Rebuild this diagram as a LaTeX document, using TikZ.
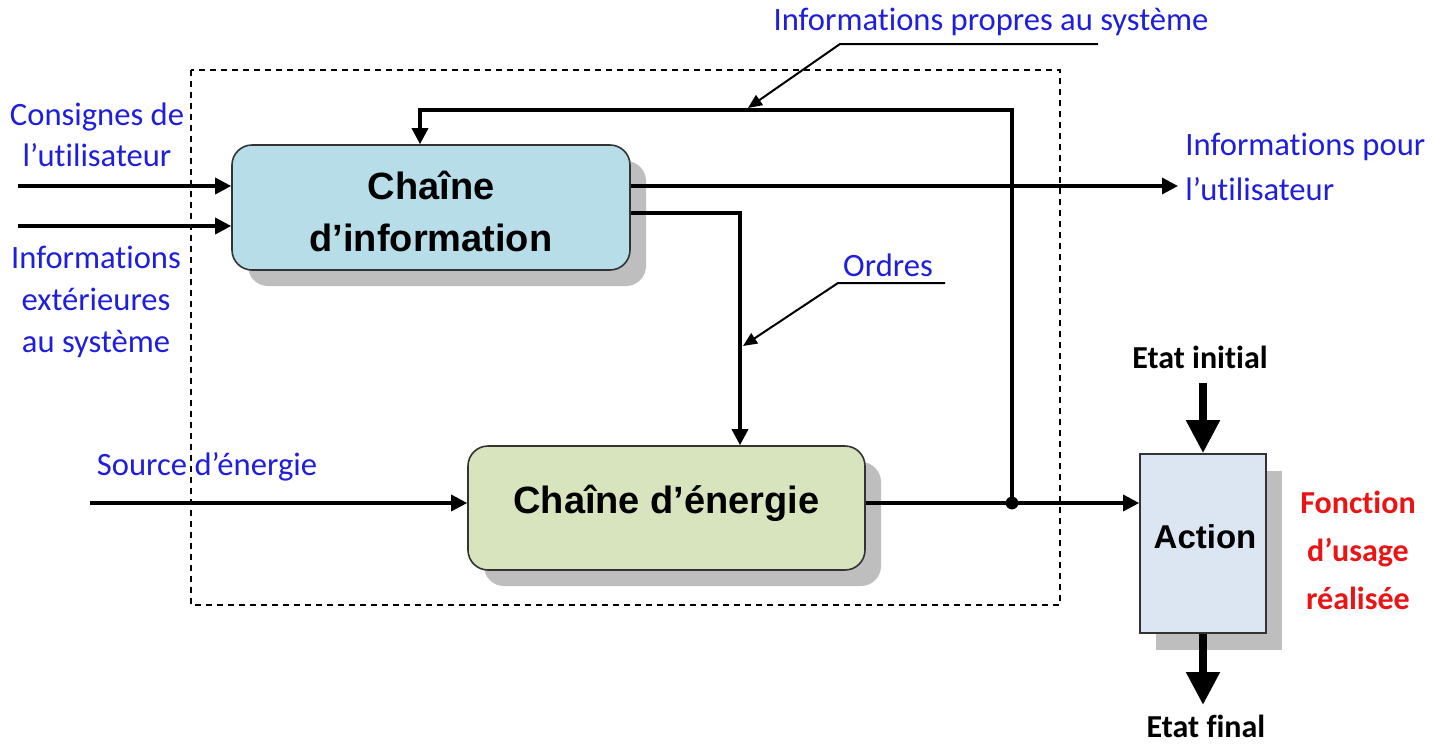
\documentclass[tikz,border=0pt]{standalone}
\usepackage{fontspec}
\setmainfont[Ligatures=NoCommon]{Carlito}
\newfontfamily\arialfont{Liberation Sans}
\usetikzlibrary{arrows.meta,shadows}
\definecolor{lblblue}{RGB}{30,30,220}
\definecolor{lblred}{RGB}{235,20,20}
\definecolor{infofill}{RGB}{183,221,232}
\definecolor{enerfill}{RGB}{215,228,189}
\definecolor{actfill}{RGB}{220,230,242}
\definecolor{shadowgray}{RGB}{190,190,190}
\begin{document}
\begin{tikzpicture}[x=0.5pt,y=-0.5pt,
  conn/.style={line width=1.7pt, -{Triangle[length=8pt,width=8pt]}},
  plain/.style={line width=1.7pt},
  notearrow/.style={line width=1pt, -{Triangle[length=7pt,width=6pt]}},
  chain/.style={draw=black!80, line width=0.8pt, rounded corners=10pt,
    font=\arialfont\bfseries\fontsize{19}{26}\selectfont, align=center,
    drop shadow={shadow xshift=8pt, shadow yshift=-8pt, fill=shadowgray, opacity=1}},
  bluelbl/.style={text=lblblue, font=\fontsize{16.3}{20.5}\selectfont, inner sep=0pt},
  blacklbl/.style={font=\bfseries\fontsize{16}{20}\selectfont, inner sep=0pt},
  redlbl/.style={text=lblred, font=\bfseries\fontsize{16}{24}\selectfont, align=center, inner sep=0pt},
  bigarrow/.style={line width=4pt, -{Triangle[length=16.5pt,width=16pt]}},
  systbox/.style={line width=0.75pt, dash pattern=on 3pt off 2.5pt},
]
\useasboundingbox (0,0) rectangle (1442,745);

% system boundary
\draw[systbox] (191,70) rectangle (1060,605);

% blocks
\node[chain, fill=infofill, minimum width=199pt, minimum height=62.5pt] (info) at (431,207.5) {};
\node[font=\arialfont\bfseries\fontsize{19}{26}\selectfont, align=center] (tinfo) at (431,211) {Chaîne\\d’information};
\node[chain, fill=enerfill, minimum width=198.5pt, minimum height=62pt] (ener) at (666.5,508) {};
\node[font=\arialfont\bfseries\fontsize{19}{26}\selectfont] (tener) at (666.5,503) {Chaîne d’énergie};
\node[draw=black!80, line width=0.8pt, fill=actfill, minimum width=63pt, minimum height=89.5pt,
  drop shadow={shadow xshift=8pt, shadow yshift=-8.5pt, fill=shadowgray, opacity=1}] (action) at (1203,543.5) {};
\node[font=\arialfont\bfseries\fontsize{16.5}{20}\selectfont] (tact) at (1205,537) {Action};

% labels
\node[bluelbl, align=center] (lcons) at (97,135) {Consignes de\\l’utilisateur};
\node[bluelbl, align=center, font=\fontsize{16.3}{21}\selectfont] (lext) at (96,302) {Informations\\extérieures\\au système};
\node[bluelbl] (lsrc) at (207,467) {Source d’énergie};
\node[bluelbl, align=left, anchor=west, font=\fontsize{16.3}{22.5}\selectfont] (lout) at (1185,167) {Informations pour\\l’utilisateur};
\node[bluelbl] (lord) at (888,265) {Ordres};
\node[bluelbl] (lprop) at (991,22) {Informations propres au système};
\node[blacklbl] (lei) at (1200,357) {Etat initial};
\node[blacklbl] (lef) at (1206,726) {Etat final};
\node[redlbl] (lfct) at (1358,550) {Fonction\\d’usage\\réalisée};

% coordinates
\coordinate (c1) at (18,186);
\coordinate (c2) at (18,226);
\coordinate (j) at (1012,503);
\coordinate (fbk) at (420,110);
\coordinate (out) at (1178,186);
\coordinate (ord) at (740,213);
\coordinate (src) at (90,503);
\coordinate (ipl) at (840,44);
\coordinate (ipr) at (1098,44);
\coordinate (ipt) at (748,108);
\coordinate (orl) at (838,283);
\coordinate (orr) at (945,283);
\coordinate (ort) at (743,346);
\coordinate (eis) at (1203,383);
\coordinate (efe) at (1203,705);

% connectors
\draw[conn] (c1) -- (c1 -| info.west);
\draw[conn] (c2) -- (c2 -| info.west);
\draw[conn] (j) |- (fbk) -- (fbk |- info.north);
\draw[conn] (out -| info.east) -- (out);
\draw[conn] (ord -| info.east) -- (ord) -- (ord |- ener.north);
\draw[conn] (src) -- (src -| ener.west);
\draw[plain] (j -| ener.east) -- (j);
\draw[conn] (j) -- (j -| action.west);
\fill (j) circle (3.2pt);

% annotation leaders
\draw[notearrow] (ipr) -- (ipl) -- (ipt);
\draw[notearrow] (orr) -- (orl) -- (ort);

% action arrows
\draw[bigarrow] (eis) -- (action.north);
\draw[bigarrow] (action.south) -- (efe);
\end{tikzpicture}
\end{document}
